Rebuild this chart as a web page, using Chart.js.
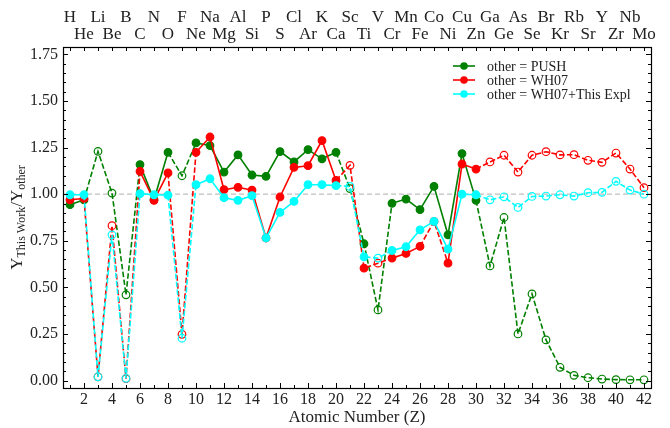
<!DOCTYPE html>
<html><head><meta charset="utf-8">
<script src="https://cdn.jsdelivr.net/npm/chart.js@4/dist/chart.umd.min.js"></script>
<style>html,body{margin:0;padding:0;background:#fff;}#wrap{width:670px;height:428px;position:relative;}</style>
</head><body><div id="wrap"><canvas id="c"></canvas></div>
<script>
const atomicNumbers = [1,2,3,4,5,6,7,8,9,10,11,12,13,14,15,16,17,18,19,20,21,22,23,24,25,26,27,28,29,30,31,32,33,34,35,36,37,38,39,40,41,42];
const elements = ['H','He','Li','Be','B','C','N','O','F','Ne','Na','Mg','Al','Si','P','S','Cl','Ar','K','Ca','Sc','Ti','V','Cr','Mn','Fe','Co','Ni','Cu','Zn','Ga','Ge','As','Se','Br','Kr','Rb','Sr','Y','Zr','Nb','Mo'];
const seriesLabels = ['other = PUSH','other = WH07','other = WH07+This Expl'];
const pushValues = [0.944,0.97,1.23,1.006,0.46,1.159,0.97,1.225,1.099,1.275,1.261,1.119,1.211,1.103,1.096,1.229,1.173,1.239,1.19,1.225,1.03,0.734,0.379,0.951,0.974,0.917,1.042,0.782,1.218,0.967,0.615,0.875,0.25,0.465,0.218,0.071,0.028,0.015,0.008,0.005,0.004,0.004];
const wh07Values = [0.97,0.977,0.02,0.831,0.01,1.123,0.967,1.114,0.248,1.225,1.307,1.024,1.037,1.022,0.765,0.985,1.144,1.153,1.288,1.074,1.155,0.603,0.63,0.657,0.682,0.72,0.854,0.63,1.162,1.135,1.173,1.209,1.119,1.209,1.228,1.211,1.212,1.182,1.171,1.221,1.135,1.035];
const wh07ExplValues = [0.997,0.997,0.02,0.782,0.012,1.003,0.997,0.995,0.227,1.051,1.083,0.981,0.967,0.992,0.765,0.902,0.961,1.051,1.051,1.046,1.042,0.664,0.657,0.698,0.718,0.809,0.854,0.705,1.0,0.997,0.97,0.986,0.929,0.988,0.99,0.997,0.99,1.008,1.01,1.069,1.022,1.0];
const pushOpenZ = [3,4,5,9,21,23,31,32,33,34,35,36,37,38,39,40,41,42];
const wh07OpenZ = [3,4,5,9,21,23,27,31,32,33,34,35,36,37,38,39,40,41,42];
const wh07ExplOpenZ = [3,4,5,9,21,23,31,32,33,34,35,36,37,38,39,40,41,42];
const xTickLabels = [2,4,6,8,10,12,14,16,18,20,22,24,26,28,30,32,34,36,38,40,42];
const yTickLabels = [0,0.25,0.5,0.75,1.0,1.25,1.5,1.75];

const SERIF = '"Liberation Serif", "DejaVu Serif", serif';
const DASH = [5.5, 2.4];

function makeDataset(label, values, openZ, color, order) {
  const open = atomicNumbers.map(z => openZ.includes(z));
  return {
    label, order,
    data: atomicNumbers.map((z, i) => ({x: z, y: values[i]})),
    borderColor: color,
    backgroundColor: color,
    borderWidth: 1.6,
    borderDash: [],
    pointRadius: 3.8,
    pointBorderWidth: 1.2,
    pointBorderColor: color,
    pointBackgroundColor: open.map(o => o ? 'rgba(255,255,255,0)' : color),
    segment: {
      borderDash: ctx => (open[ctx.p0DataIndex] || open[ctx.p1DataIndex]) ? DASH : []
    },
    tension: 0,
    fill: false
  };
}

const datasets = [
  makeDataset(seriesLabels[0], pushValues, pushOpenZ, '#008000', 2),
  makeDataset(seriesLabels[1], wh07Values, wh07OpenZ, '#ff0000', 1),
  makeDataset(seriesLabels[2], wh07ExplValues, wh07ExplOpenZ, '#00ffff', 0)
];

const framePlugin = {
  id: 'frame',
  beforeDatasetsDraw(chart) {
    const {ctx, chartArea: a} = chart;
    const y1 = chart.scales.y.getPixelForValue(1.0);
    ctx.save();
    ctx.strokeStyle = '#bfbfbf';
    ctx.lineWidth = 1.2;
    ctx.setLineDash([5, 3]);
    ctx.beginPath(); ctx.moveTo(a.left, y1); ctx.lineTo(a.right, y1); ctx.stroke();
    ctx.restore();
  },
  afterDatasetsDraw(chart) {
    const {ctx, chartArea: a, scales} = chart;
    ctx.save();
    ctx.strokeStyle = '#000';
    ctx.lineWidth = 1;
    ctx.beginPath();
    for (let z = 1; z <= 42; z++) {
      const px = Math.round(scales.x.getPixelForValue(z)) + 0.5;
      const lb = (z % 2 === 0) ? 5 : 3;
      ctx.moveTo(px, a.bottom); ctx.lineTo(px, a.bottom - lb);
      ctx.moveTo(px, a.top); ctx.lineTo(px, a.top + 4);
    }
    for (let k = 0; k <= 35; k++) {
      const v = k * 0.05;
      const py = Math.round(scales.y.getPixelForValue(v)) + 0.5;
      const len = (k % 5 === 0) ? 5 : 3;
      ctx.moveTo(a.left, py); ctx.lineTo(a.left + len, py);
      ctx.moveTo(a.right, py); ctx.lineTo(a.right - len, py);
    }
    ctx.stroke();
    ctx.lineWidth = 1.2;
    ctx.strokeRect(Math.round(a.left) + 0.5, Math.round(a.top) + 0.5, Math.round(a.right - a.left), Math.round(a.bottom - a.top));
    ctx.restore();
  },
  afterDraw(chart) {
    const {ctx, chartArea: a} = chart;
    ctx.save();
    const lx = a.right - 198, ly0 = a.top + 19, dy = 14;
    chart.data.datasets.forEach((ds, i) => {
      const y = ly0 + i * dy;
      ctx.strokeStyle = ds.borderColor; ctx.lineWidth = 1.6; ctx.setLineDash([]);
      ctx.beginPath(); ctx.moveTo(lx, y); ctx.lineTo(lx + 22, y); ctx.stroke();
      ctx.fillStyle = ds.borderColor;
      ctx.beginPath(); ctx.arc(lx + 11, y, 3.8, 0, Math.PI * 2); ctx.fill();
      ctx.fillStyle = '#222';
      ctx.font = '14px ' + SERIF;
      ctx.textBaseline = 'middle'; ctx.textAlign = 'left';
      ctx.fillText(ds.label, lx + 34, y + 1);
    });
    const cx = 18, cy = (a.top + a.bottom) / 2;
    ctx.translate(cx, cy);
    ctx.rotate(-Math.PI / 2);
    const parts = [
      {t: 'Y', f: 17, dy: 0},
      {t: 'This Work', f: 12, dy: 4},
      {t: '/Y', f: 17, dy: 0},
      {t: 'other', f: 12, dy: 4}
    ];
    let total = 0;
    parts.forEach(p => { ctx.font = p.f + 'px ' + SERIF; p.w = ctx.measureText(p.t).width; total += p.w; });
    let x = -total / 2;
    ctx.fillStyle = '#222'; ctx.textBaseline = 'middle'; ctx.textAlign = 'left';
    parts.forEach(p => { ctx.font = p.f + 'px ' + SERIF; ctx.fillText(p.t, x, p.dy); x += p.w; });
    ctx.restore();
  }
};

new Chart(document.getElementById('c'), {
  type: 'line',
  data: {datasets},
  options: {
    responsive: true,
    maintainAspectRatio: false,
    animation: false,
    events: [],
    layout: {padding: {left: 0, right: 19, top: 0, bottom: 0}},
    plugins: {legend: {display: false}, tooltip: {enabled: false}},
    scales: {
      x: {
        type: 'linear', position: 'bottom', min: 0.5, max: 42.5,
        afterBuildTicks: s => { s.ticks = xTickLabels.map(v => ({value: v})); },
        afterFit: s => { s.height = 40; },
        grid: {display: false, drawTicks: false},
        border: {display: false},
        ticks: {autoSkip: false, maxRotation: 0, padding: 2, color: '#222', font: {family: SERIF, size: 16},
          callback: v => String(v)},
        title: {display: true, text: 'Atomic Number (Z)', color: '#222', font: {family: SERIF, size: 17}, padding: {top: 0, bottom: 0}}
      },
      x2: {
        type: 'linear', position: 'top', min: 0.5, max: 42.5,
        afterBuildTicks: s => { s.ticks = atomicNumbers.map(v => ({value: v})); },
        afterFit: s => { s.height = 47; },
        grid: {display: false, drawTicks: false},
        border: {display: false},
        ticks: {autoSkip: false, maxRotation: 0, padding: 4, color: '#222', font: {family: SERIF, size: 17, lineHeight: 1.0},
          callback: v => { const i = atomicNumbers.indexOf(v); if (i < 0) return ''; return (v % 2 === 1) ? [elements[i], ''] : ['', elements[i]]; }}
      },
      y: {
        type: 'linear', position: 'left', min: -0.04, max: 1.79,
        afterBuildTicks: s => { s.ticks = yTickLabels.map(v => ({value: v})); },
        afterFit: s => { s.width = 63; },
        grid: {display: false, drawTicks: false},
        border: {display: false},
        ticks: {padding: 5, color: '#222', font: {family: SERIF, size: 16}, callback: v => Number(v).toFixed(2)}
      }
    }
  },
  plugins: [framePlugin]
});
</script>
</body></html>
